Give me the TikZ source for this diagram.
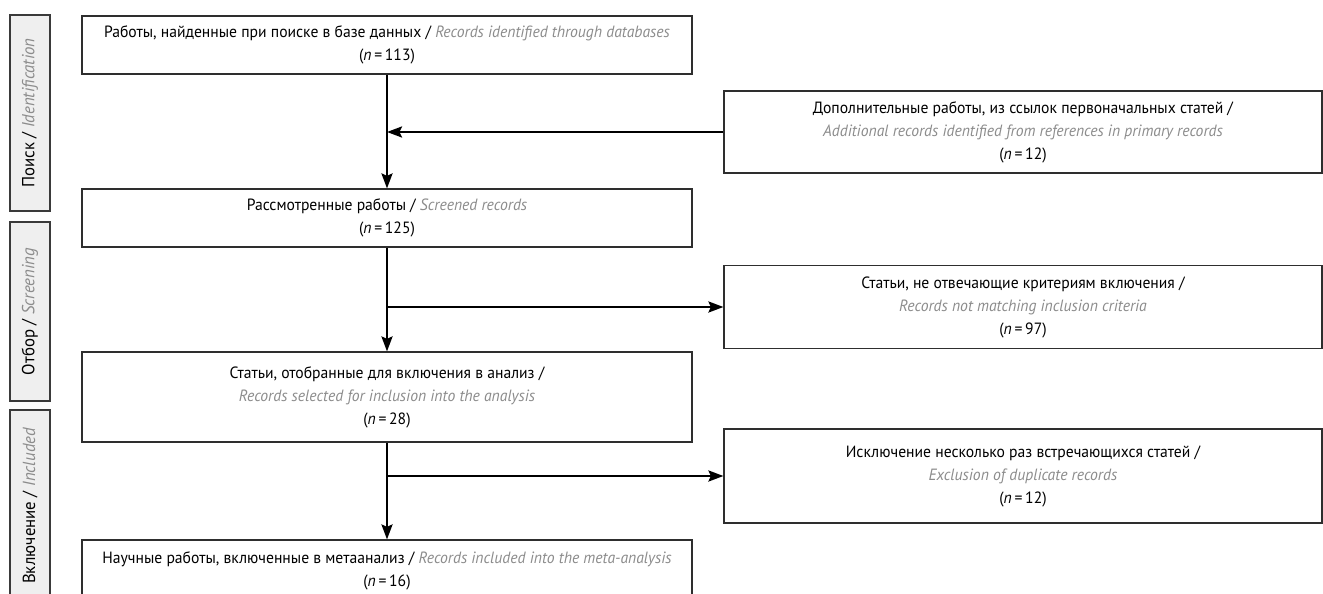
\documentclass[tikz,border=0pt]{standalone}
\usepackage{fontspec}
\setmainfont{PT Sans}[FakeStretch=0.96]
\usetikzlibrary{arrows.meta}
\definecolor{eng}{HTML}{8C8C8C}
\definecolor{frame}{HTML}{2E2E2E}
\definecolor{sidefill}{HTML}{EFEFEF}
\definecolor{sideframe}{HTML}{3A3A3A}
\newcommand{\en}[1]{{\color{eng}\itshape #1}}
\newcommand{\nn}[1]{(\textit{n}\,=\,#1)}
\begin{document}
\begin{tikzpicture}[x=1pt,y=-1pt,
  box/.style={draw=frame, line width=1.1pt, fill=white, align=center, inner sep=0pt,
    font=\fontsize{16.3}{23}\selectfont},
  leftbox/.style={box, minimum width=610pt},
  rightbox/.style={box, minimum width=598pt},
  sidebox/.style={draw=sideframe, line width=1.1pt, fill=sidefill, rotate=90,
    minimum height=40pt, inner sep=0pt, font=\fontsize{17.5}{20}\selectfont},
  arr/.style={line width=2.5pt, -{Stealth[length=15pt,width=11pt,inset=2.5pt]}}]
\useasboundingbox (0,0) rectangle (1323,594);
\begin{scope}
\clip (0,0) rectangle (1323,594);
% side labels
\node[sidebox, minimum width=196pt] (s1) at (30,113) {Поиск / \en{Identification}};
\node[sidebox, minimum width=179pt] (s2) at (30,311.5) {Отбор / \en{Screening}};
\node[sidebox, minimum width=192pt] (s3) at (30,506) {Включение / \en{Included}};
% left column
\node[leftbox, minimum height=58pt] (a) at (387,45)
  {Работы, найденные при поиске в базе данных / \en{Records identified through databases}\\ \nn{113}};
\node[leftbox, minimum height=58pt] (c) at (387,218)
  {Рассмотренные работы / \en{Screened records}\\ \nn{125}};
\node[leftbox, minimum height=90pt] (e) at (387,397)
  {Статьи, отобранные для включения в анализ /\\ \en{Records selected for inclusion into the analysis}\\ \nn{28}};
\node[leftbox, minimum height=62pt] (g) at (387,571)
  {Научные работы, включенные в метаанализ / \en{Records included into the meta-analysis}\\ \nn{16}};
% right column
\node[rightbox, minimum height=82pt] (b) at (1023,132)
  {Дополнительные работы, из ссылок первоначальных статей /\\ \en{Additional records identified from references in primary records}\\ \nn{12}};
\node[rightbox, minimum height=83pt] (d) at (1023,307)
  {Статьи, не отвечающие критериям включения /\\ \en{Records not matching inclusion criteria}\\ \nn{97}};
\node[rightbox, minimum height=94pt] (f) at (1023,476)
  {Исключение несколько раз встречающихся статей /\\ \en{Exclusion of duplicate records}\\ \nn{12}};
% connectors
\draw[arr] (a.south) -- (c.north);
\draw[arr] (c.south) -- (e.north);
\draw[arr] (e.south) -- (g.north);
\draw[arr] (b.west) -- (b.west -| a.south);
\draw[arr] (d.west -| c.south) -- (d.west);
\draw[arr] (f.west -| e.south) -- (f.west);
\end{scope}
\end{tikzpicture}
\end{document}
